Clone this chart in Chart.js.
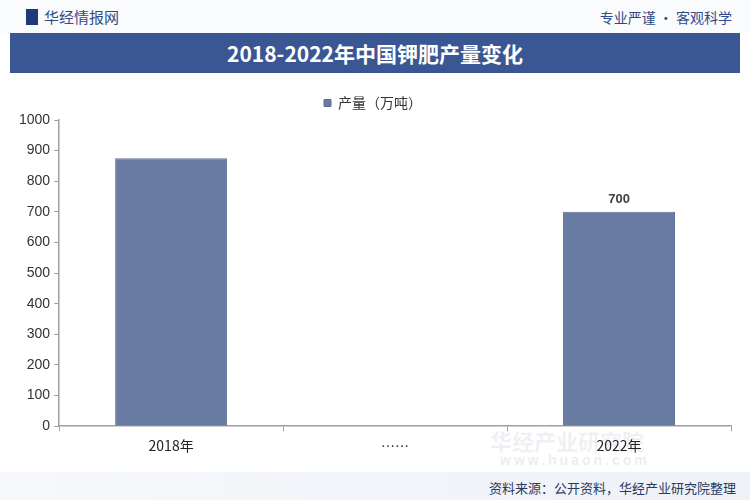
<!DOCTYPE html>
<html>
<head>
<meta charset="utf-8">
<script src="https://cdn.jsdelivr.net/npm/chart.js@4/dist/chart.umd.min.js"></script>
<style>
  body { margin: 0; width: 750px; height: 500px; overflow: hidden; background: #fff; font-family: "Noto Sans CJK SC", sans-serif; }
  #wrap { position: relative; width: 750px; height: 500px; }
  .top { position: absolute; left: 0; top: 0; width: 750px; height: 33px; background: #fafbfd; }
  .logo { position: absolute; left: 26px; top: 6px; font-size: 15px; color: #2f4a86; }
  .logo i { display: inline-block; width: 12px; height: 16px; background: #1f3a78; margin-right: 6px; vertical-align: -2px; }
  .slogan { position: absolute; right: 18px; top: 7px; font-size: 14px; color: #2f4a86; }
  .title { position: absolute; left: 10px; top: 33px; width: 730px; height: 40px; background: #3a5693; color: #fff; text-align: center; line-height: 40px; font-size: 21px; font-weight: bold; }
  .foot { position: absolute; left: 0; top: 472px; width: 750px; height: 28px; background: linear-gradient(90deg, #f6f8fb, #eef2f7); }
  .src { position: absolute; right: 14px; top: 478px; font-size: 13px; color: #2a3a5c; }
  .wm { position: absolute; left: 490px; top: 424px; font-size: 22px; color: rgba(150,160,190,0.16); font-weight: bold; }
  .wm2 { position: absolute; left: 500px; top: 452px; font-size: 14px; color: rgba(150,160,190,0.2); font-weight: bold; letter-spacing: 3px; font-family: "Liberation Sans", sans-serif; }
  canvas { position: absolute; left: 0; top: 80px; }
</style>
</head>
<body>
<div id="wrap">
  <div class="top"></div>
  <div class="logo"><i></i>华经情报网</div>
  <div class="slogan">专业严谨 • 客观科学</div>
  <div class="title">2018-2022年中国钾肥产量变化</div>
  <div class="foot"></div>
  <div class="wm">华经产业研究院</div>
  <div class="wm2">www.huaon.com</div>
  <canvas id="chart" width="750" height="392"></canvas>
  <div class="src">资料来源：公开资料，华经产业研究院整理</div>
</div>
<script>
const categories = ['2018年', '……', '2022年'];
const output = [875, null, 700];
const showValue = [false, false, true];
const seriesName = '产量（万吨）';

const valueLabels = {
  id: 'valueLabels',
  afterDatasetsDraw(chart) {
    const ctx = chart.ctx;
    const meta = chart.getDatasetMeta(0);
    ctx.save();
    ctx.font = 'bold 13px "Liberation Sans", sans-serif';
    ctx.fillStyle = '#404040';
    ctx.textAlign = 'center';
    ctx.textBaseline = 'bottom';
    meta.data.forEach((bar, i) => {
      if (!showValue[i] || output[i] == null) return;
      ctx.fillText(output[i], bar.x, bar.y - 6);
    });
    ctx.restore();
  }
};

new Chart(document.getElementById('chart'), {
  type: 'bar',
  data: {
    labels: categories,
    datasets: [{
      label: seriesName,
      data: output,
      backgroundColor: '#687ba3',
      borderColor: '#5e7097',
      borderWidth: 1,
      categoryPercentage: 1,
      barPercentage: 0.5
    }]
  },
  options: {
    responsive: false,
    animation: false,
    layout: { padding: { left: 15, right: 19, top: 0, bottom: 12 } },
    plugins: {
      legend: {
        position: 'top',
        labels: {
          boxWidth: 7, boxHeight: 7,
          color: '#333',
          padding: 16,
          font: { size: 14, family: '"Noto Sans CJK SC", sans-serif' }
        }
      },
      tooltip: { enabled: false }
    },
    scales: {
      x: {
        grid: { display: true, drawOnChartArea: false, offset: true, color: '#a0a0a0', tickLength: 5 },
        border: { color: '#a0a0a0', width: 1.5 },
        ticks: { color: '#222', padding: 6, font: { size: 14, family: '"Noto Sans CJK SC", sans-serif' } }
      },
      y: {
        min: 0, max: 1000,
        ticks: { stepSize: 100, color: '#333', padding: 4, callback: v => String(v), font: { size: 14, family: '"Liberation Sans", sans-serif' } },
        grid: { display: true, drawOnChartArea: false, color: '#a0a0a0', tickLength: 5 },
        border: { color: '#a0a0a0', width: 1.5 }
      }
    }
  },
  plugins: [valueLabels]
});
</script>
</body>
</html>
